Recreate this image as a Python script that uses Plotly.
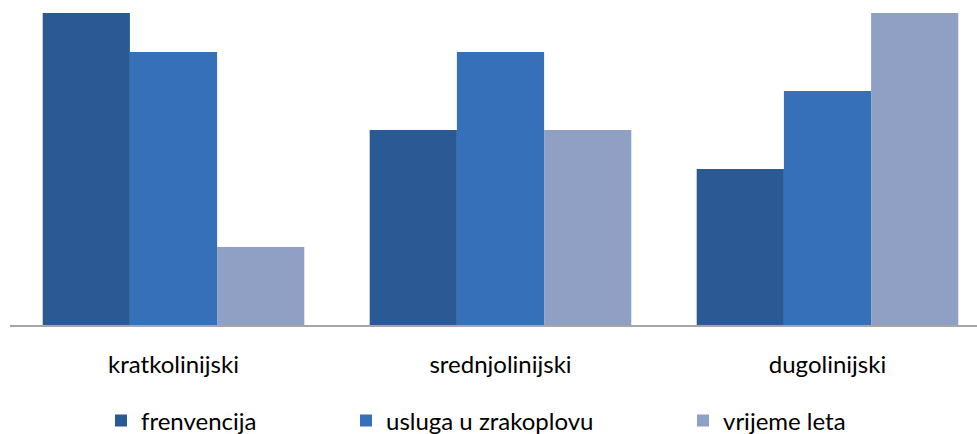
import plotly.graph_objects as go

categories = ["kratkolinijski", "srednjolinijski", "dugolinijski"]
frekvencija = [8, 5, 4]
usluga = [7, 7, 6]
vrijeme = [2, 5, 8]
series_names = ["frenvencija", "usluga u zrakoplovu", "vrijeme leta"]
colors = ["#2A5993", "#3570B8", "#8FA0C4"]

W, H = 977, 434
ml, mr, mt, mb = 10, 0, 13, 109
pw = W - ml - mr
ph = H - mt - mb

fig = go.Figure()
legend_px = [101, 346, 683]
for i, (name, vals, col) in enumerate(zip(series_names, [frekvencija, usluga, vrijeme], colors)):
    lg = "legend" if i == 0 else f"legend{i+1}"
    fig.add_trace(go.Bar(x=categories, y=vals, name=name, marker=dict(color=col, line=dict(width=0)),
                         legend=lg))

leg_common = dict(orientation="h", yanchor="middle", xanchor="left",
                  font=dict(family="Lato", size=24, color="#000000"),
                  bgcolor="rgba(0,0,0,0)", borderwidth=0)
ly = -(421 - (mt + ph)) / ph
layout_legends = {}
for i, px in enumerate(legend_px):
    key = "legend" if i == 0 else f"legend{i+1}"
    layout_legends[key] = dict(x=(px - ml) / pw, y=ly, **leg_common)

fig.update_layout(
    template="none",
    width=W, height=H,
    margin=dict(l=ml, r=mr, t=mt, b=mb, pad=0, autoexpand=False),
    paper_bgcolor="white", plot_bgcolor="white",
    barmode="group", bargap=0.2, bargroupgap=0,
    showlegend=True,
    xaxis=dict(type="category", range=[-0.5, -0.5 + pw / 327.0], showgrid=False,
               automargin=False,
               showline=True, linecolor="#A6A6A6", linewidth=2,
               ticks="outside", ticklen=17, tickcolor="rgba(0,0,0,0)",
               tickfont=dict(family="Lato", size=24, color="#000000")),
    yaxis=dict(range=[0, 8], visible=False, showgrid=False, zeroline=False, automargin=False),
    **layout_legends,
)

fig.write_html("out.html", config={"displayModeBar": False},
               post_script="document.body.style.margin='0';document.body.style.padding='0';")
